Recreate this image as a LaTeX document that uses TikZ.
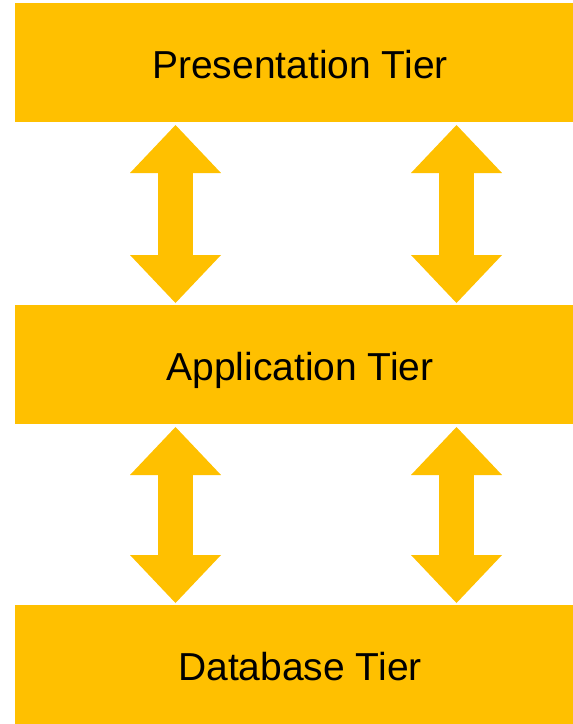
\documentclass[tikz,border=0pt]{standalone}
\usepackage{fontspec}
\setmainfont{Liberation Sans}
\usetikzlibrary{arrows.meta}
\definecolor{tiergold}{HTML}{FFC000}
\tikzset{
  tier/.style={
    rectangle,
    fill=tiergold,
    minimum width=570pt,
    minimum height=119pt,
    inner sep=0pt,
    outer sep=0pt,
    text height=31pt,
    text depth=0pt,
  font=\fontsize{39}{45}\selectfont
  },
  link/.style={
    draw=tiergold,
    line width=35pt,
    {Triangle[length=48pt,width=91pt,line width=0pt]}-{Triangle[length=48pt,width=91pt,line width=0pt]},
    shorten <=3pt,
    shorten >=2pt
  }
}

\begin{document}
\begin{tikzpicture}[x=1pt,y=-1pt]
    \useasboundingbox (0,0) rectangle (573,724);
    \node[tier] (pres) at (300,62.5) {Presentation Tier};
    \node[tier] (app) at (300,364.5) {Application Tier};
    \node[tier] (db) at (300,664.5) {Database Tier};
    \coordinate (left) at (175.5,0);
    \coordinate (right) at (456.5,0);
    \draw[link] (pres.south -| left) -- (app.north -| left);
    \draw[link] (pres.south -| right) -- (app.north -| right);
    \draw[link] (app.south -| left) -- (db.north -| left);
    \draw[link] (app.south -| right) -- (db.north -| right);
\end{tikzpicture}
\end{document}
